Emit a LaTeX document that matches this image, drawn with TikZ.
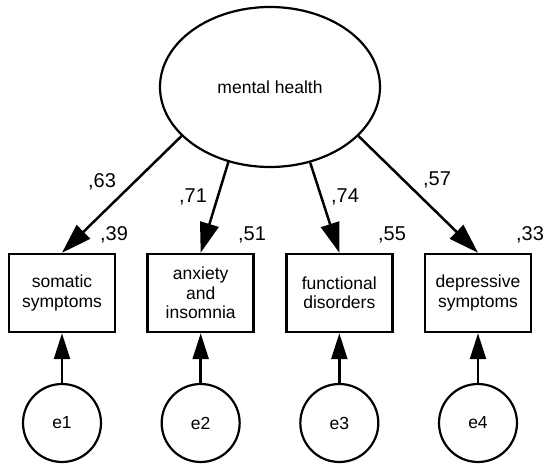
\documentclass[tikz,border=0pt]{standalone}
\usepackage{fontspec}
\setmainfont{Liberation Sans}
\usetikzlibrary{arrows.meta,shapes.geometric}
\begin{document}
\begin{tikzpicture}[x=1pt,y=1pt,
  every node/.style={font=\fontsize{17.5}{19.5}\selectfont},
  latent/.style={draw,ellipse,line width=2.2pt,minimum width=220,minimum height=160,inner sep=0pt},
  obsbox/.style={draw,rectangle,line width=2.5pt,minimum width=106,minimum height=78,align=center,inner sep=0pt},
  errc/.style={draw,circle,line width=2.2pt,minimum size=78,inner sep=0pt},
  load/.style={line width=2.5pt,-{Triangle[length=30pt,width=19pt]}},
  errarrow/.style={line width=2.5pt,-{Triangle[length=26pt,width=16pt]}},
  num/.style={inner sep=0pt,font=\fontsize{20}{22}\selectfont}]
\fill[white] (0,0) rectangle (550,471);
\useasboundingbox (0,0) rectangle (550,471);
\node[latent] (mh) at (270,384) {mental health};
\node[obsbox] (b1) at (62,178) {somatic\\symptoms};
\node[obsbox] (b2) at (200.67,178) {anxiety\\and\\insomnia};
\node[obsbox] (b3) at (339.33,178) {functional\\disorders};
\node[obsbox] (b4) at (478,178) {depressive\\symptoms};
\node[errc] (e1) at (62,48) {e1};
\node[errc] (e2) at (200.67,48) {e2};
\node[errc] (e3) at (339.33,48) {e3};
\node[errc] (e4) at (478,48) {e4};
\draw[load] (mh.209) -- (b1.north);
\draw[load] (mh.241.7) -- (b2.north);
\draw[load] (mh.298.3) -- (b3.north);
\draw[load] (mh.331) -- (b4.north);
\draw[errarrow] (e1) -- (b1);
\draw[errarrow] (e2) -- (b2);
\draw[errarrow] (e3) -- (b3);
\draw[errarrow] (e4) -- (b4);
\node[num] (l1) at (102,289) {,63};
\node[num] (l2) at (193,274) {,71};
\node[num] (l3) at (345,274) {,74};
\node[num] (l4) at (437,291) {,57};
\node[num] (r1) at (114,236) {,39};
\node[num] (r2) at (252,236) {,51};
\node[num] (r3) at (392,236) {,55};
\node[num] (r4) at (530,236) {,33};
\end{tikzpicture}
\end{document}
